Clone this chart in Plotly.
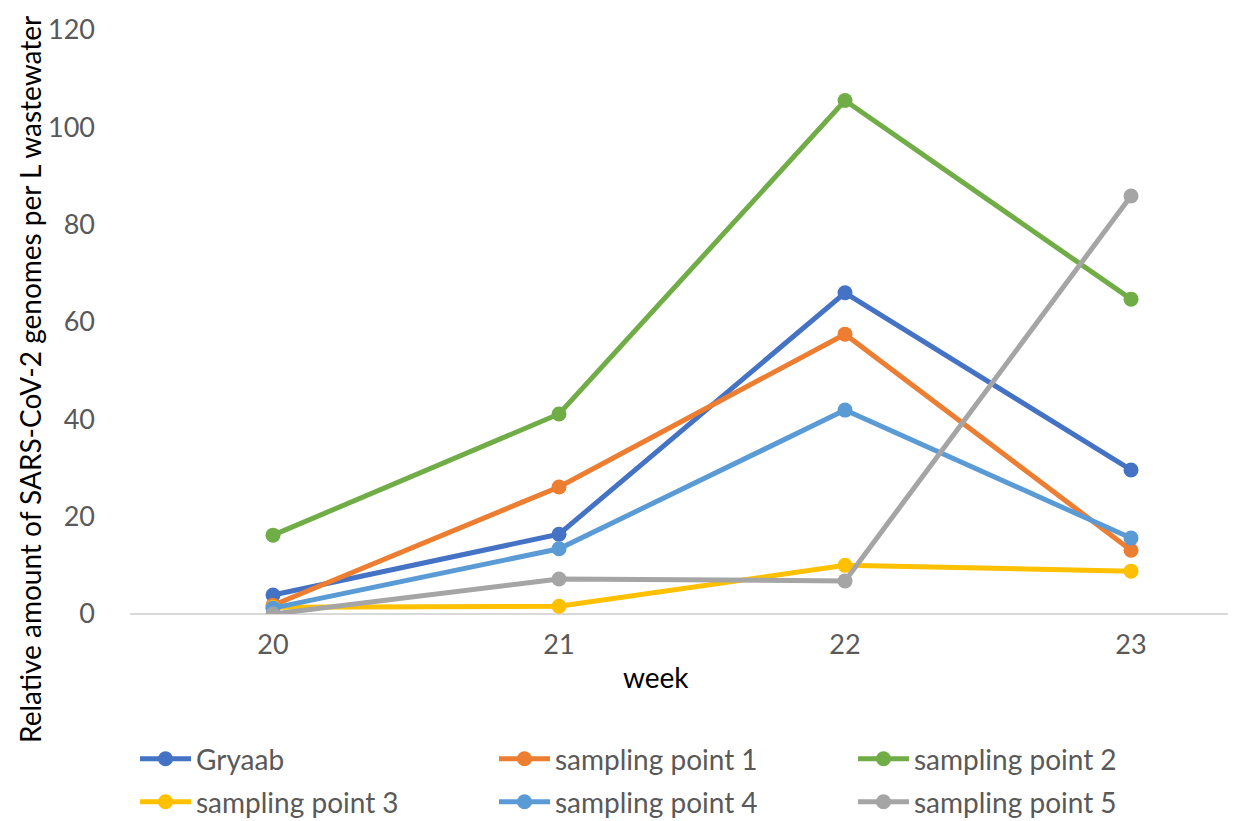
import plotly.graph_objects as go

weeks = [20, 21, 22, 23]
series_names = ["Gryaab", "sampling point 1", "sampling point 2",
                "sampling point 3", "sampling point 4", "sampling point 5"]
gryaab = [3.9, 16.4, 66.0, 29.6]
sp1 = [1.8, 26.1, 57.5, 13.1]
sp2 = [16.2, 41.1, 105.5, 64.7]
sp3 = [1.4, 1.6, 10.0, 8.8]
sp4 = [1.2, 13.4, 41.9, 15.6]
sp5 = [0.0, 7.2, 6.8, 85.9]
colors = ["#4472C4", "#ED7D31", "#70AD47", "#FFC000", "#5B9BD5", "#A5A5A5"]
y_ticks = [0, 20, 40, 60, 80, 100, 120]

# page has an 8px body margin; figure sized to fit the window
W, H = 1228, 813
L, R, T, B = 122, 0, 22, 207
plot_w = W - L - R
plot_h = H - T - B

font_family = "Lato, 'Open Sans', sans-serif"

fig = go.Figure()
all_vals = [gryaab, sp1, sp2, sp3, sp4, sp5]
for i, (name, vals, col) in enumerate(zip(series_names, all_vals, colors)):
    fig.add_trace(go.Scatter(
        x=weeks, y=vals, name=name, mode="lines+markers",
        line=dict(color=col, width=5),
        marker=dict(color=col, size=15),
        legend="legend" if i < 3 else "legend2",
    ))

legend_common = dict(
    orientation="h", xref="container", yref="container",
    x=127 / W, xanchor="left", yanchor="middle",
    entrywidth=293, entrywidthmode="pixels",
    font=dict(size=28, family=font_family, color="#595959"),
    itemwidth=51, bgcolor="rgba(0,0,0,0)",
)

fig.update_layout(
    width=W, height=H,
    margin=dict(l=L, r=R, t=T, b=B, autoexpand=False),
    paper_bgcolor="white", plot_bgcolor="white",
    font=dict(family=font_family, color="#595959", size=27),
    xaxis=dict(
        range=[19.5, 23.367], tickvals=weeks, ticktext=[str(w) for w in weeks],
        showgrid=False, zeroline=False, showline=False, ticks="",
        tickfont=dict(size=27, color="#595959"), automargin=False,
        ticklabelstandoff=12,
    ),
    yaxis=dict(
        range=[0, 120], tickvals=y_ticks, showgrid=False,
        zeroline=True, zerolinecolor="#D9D9D9", zerolinewidth=1.5,
        showline=False, ticks="", automargin=False,
        tickfont=dict(size=27, color="#595959"),
        ticklabelstandoff=34,
    ),
    legend=dict(legend_common, y=(H - 751) / H),
    legend2=dict(legend_common, y=(H - 794) / H),
    annotations=[
        dict(text="week", xref="paper", yref="paper",
             x=(648 - L) / plot_w, y=(606 - 669) / plot_h,
             xanchor="center", yanchor="middle", showarrow=False,
             font=dict(size=28, color="black", family=font_family)),
        dict(text="Relative amount of SARS-CoV-2 genomes per L wastewater",
             xref="paper", yref="paper",
             x=(22 - L) / plot_w, y=(606 - 372) / plot_h,
             xanchor="center", yanchor="middle", textangle=-90, showarrow=False,
             font=dict(size=28, color="black", family=font_family)),
    ],
)

fig.write_html("out.html")
